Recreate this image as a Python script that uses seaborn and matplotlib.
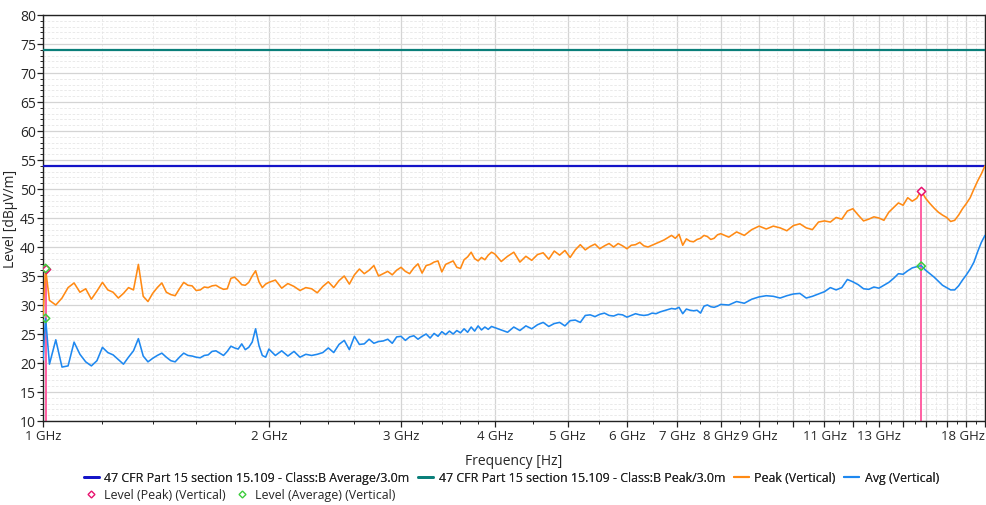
"""
Radiated emission scan 1-18 GHz (vertical) against the FCC 15.109 class B limits.
"""

import matplotlib
matplotlib.use("Agg")
import matplotlib.pyplot as plt
import pandas as pd
import seaborn as sns
from matplotlib.lines import Line2D
from matplotlib.ticker import FixedLocator, FuncFormatter, MultipleLocator


# sweep frequencies [GHz]
FREQ_GHZ = [
    1.00, 1.008, 1.02, 1.04, 1.06, 1.08, 1.10, 1.12, 1.14, 1.16, 1.18,
    1.20, 1.22, 1.24, 1.26, 1.28, 1.30, 1.32, 1.34, 1.36, 1.38,
    1.40, 1.42, 1.44, 1.46, 1.48, 1.50, 1.52, 1.54, 1.56, 1.58,
    1.60, 1.62, 1.64, 1.66, 1.68, 1.70, 1.72, 1.74, 1.76, 1.78,
    1.80, 1.82, 1.84, 1.86, 1.88, 1.90, 1.92, 1.94, 1.96, 1.98,
    2.00, 2.04, 2.08, 2.12, 2.16, 2.20, 2.24, 2.28, 2.32, 2.36,
    2.40, 2.44, 2.48, 2.52, 2.56, 2.60, 2.64, 2.68, 2.72, 2.76,
    2.80, 2.84, 2.88, 2.92, 2.96, 3.00, 3.04, 3.08, 3.12, 3.16,
    3.20, 3.24, 3.28, 3.32, 3.36, 3.40, 3.44, 3.48, 3.52, 3.56,
    3.60, 3.64, 3.68, 3.72, 3.76, 3.80, 3.84, 3.88, 3.92, 3.96,
    4.00, 4.08, 4.16, 4.24, 4.32, 4.40, 4.48, 4.56, 4.64, 4.72,
    4.80, 4.88, 4.96, 5.04, 5.12, 5.20, 5.28, 5.36, 5.44, 5.52,
    5.60, 5.68, 5.76, 5.84, 5.92, 6.00, 6.08, 6.16, 6.24, 6.32,
    6.40, 6.48, 6.56, 6.64, 6.72, 6.80, 6.88, 6.96, 7.04, 7.12,
    7.20, 7.28, 7.36, 7.44, 7.52, 7.60, 7.68, 7.76, 7.84, 7.92,
    8.0, 8.2, 8.4, 8.6, 8.8, 9.0, 9.2, 9.4, 9.6, 9.8,
    10.0, 10.2, 10.4, 10.6, 10.8, 11.0, 11.2, 11.4, 11.6, 11.8,
    12.0, 12.2, 12.4, 12.6, 12.8, 13.0, 13.2, 13.4, 13.6, 13.8,
    14.0, 14.2, 14.4, 14.6, 14.8, 15.0, 15.2, 15.4, 15.6, 15.8,
    16.0, 16.2, 16.4, 16.6, 16.8, 17.0, 17.2, 17.4, 17.6, 17.8,
    18.0,
]

# Peak (Vertical) [dBuV/m]
PEAK = [
    28.0, 36.2, 30.8, 30.0, 31.2, 33.0, 33.8, 32.2, 32.8, 31.0, 32.4,
    33.9, 32.6, 32.2, 31.2, 32.0, 33.0, 32.6, 37.0, 31.5, 30.6,
    32.0, 33.0, 33.8, 32.2, 31.8, 31.6, 32.8, 33.9, 33.4, 33.3,
    32.5, 32.6, 33.1, 33.0, 33.3, 33.4, 33.0, 32.7, 32.8, 34.6,
    34.8, 34.2, 33.5, 33.4, 33.9, 35.0, 35.9, 34.0, 33.0, 33.6,
    33.9, 34.3, 32.9, 33.7, 33.2, 32.5, 33.0, 32.8, 32.1, 33.2,
    34.0, 33.0, 34.2, 35.0, 33.6, 35.2, 36.2, 35.4, 36.0, 36.8,
    35.0, 35.4, 35.8, 35.2, 36.0, 36.5, 35.8, 35.4, 36.4, 37.1,
    35.5, 36.8, 37.0, 37.4, 37.6, 35.7, 37.0, 37.3, 37.6, 36.5,
    36.3, 37.8, 38.3, 39.1, 38.0, 37.6, 38.2, 37.8, 38.6, 39.1,
    38.8, 37.5, 38.4, 39.1, 37.4, 38.4, 37.7, 38.7, 39.0, 37.9,
    39.3, 38.6, 39.4, 38.2, 39.5, 40.4, 39.5, 40.1, 40.5, 39.7,
    40.2, 40.6, 40.0, 40.6, 40.2, 39.7, 40.3, 40.4, 40.8, 40.2,
    40.0, 40.3, 40.6, 40.9, 41.2, 41.6, 42.0, 41.5, 42.2, 40.3,
    41.4, 41.0, 40.9, 41.3, 41.5, 42.0, 41.8, 41.3, 41.5, 42.1,
    42.3, 41.7, 42.6, 42.0, 43.0, 43.6, 43.1, 43.6, 43.3, 42.8,
    43.7, 44.0, 43.3, 43.0, 44.3, 44.5, 44.3, 45.1, 44.8, 46.2,
    46.6, 45.5, 44.5, 44.8, 45.2, 45.0, 44.6, 46.0, 46.8, 47.6,
    47.2, 48.5, 47.9, 48.4, 49.7, 48.4, 47.5, 46.7, 46.0, 45.5,
    45.1, 44.4, 44.6, 45.5, 46.6, 47.5, 48.5, 50.0, 51.4, 52.6,
    54.0,
]

# Avg (Vertical) [dBuV/m]
AVG = [
    20.5, 27.7, 19.8, 24.0, 19.3, 19.5, 23.6, 21.5, 20.2, 19.5, 20.4,
    22.7, 21.8, 21.4, 20.6, 19.8, 21.0, 22.1, 24.2, 21.2, 20.2,
    20.8, 21.3, 21.7, 21.0, 20.4, 20.2, 21.0, 21.7, 21.3, 21.2,
    21.0, 20.9, 21.3, 21.4, 22.0, 22.1, 21.7, 21.3, 22.0, 22.9,
    22.6, 22.4, 23.3, 22.3, 22.7, 23.6, 25.9, 23.0, 21.3, 21.0,
    22.4, 21.3, 22.1, 21.2, 22.0, 21.0, 21.5, 21.3, 21.5, 21.8,
    22.6, 21.8, 23.2, 23.9, 22.3, 24.6, 23.2, 23.3, 24.1, 23.4,
    23.7, 23.8, 24.1, 23.4, 24.5, 24.6, 23.9, 24.5, 24.7, 24.1,
    24.6, 25.0, 24.3, 25.1, 24.6, 25.4, 24.9, 25.5, 25.0, 25.6,
    25.2, 25.9, 25.3, 26.2, 25.5, 26.4, 25.7, 26.2, 25.8, 26.3,
    26.1, 25.7, 25.3, 26.2, 25.6, 26.4, 25.9, 26.6, 27.0, 26.3,
    26.8, 27.0, 26.4, 27.3, 27.4, 27.0, 28.2, 28.3, 28.0, 28.4,
    28.6, 28.2, 28.1, 28.4, 28.3, 27.9, 28.2, 28.5, 28.3, 28.2,
    28.3, 28.6, 28.5, 28.8, 29.0, 29.2, 29.4, 29.3, 29.6, 28.5,
    29.3, 29.1, 29.0, 29.1, 28.6, 29.8, 30.0, 29.7, 29.6, 29.8,
    30.1, 30.0, 30.6, 30.3, 31.0, 31.4, 31.6, 31.5, 31.2, 31.6,
    31.9, 32.0, 31.2, 31.5, 31.9, 32.3, 33.0, 32.6, 33.0, 34.4,
    34.0, 33.5, 32.8, 32.7, 33.1, 32.9, 33.4, 33.9, 34.6, 35.4,
    35.3, 35.9, 36.4, 36.6, 36.8, 36.0, 35.4, 34.8, 34.1, 33.4,
    33.0, 32.6, 32.6, 33.3, 34.3, 35.2, 36.2, 37.4, 39.2, 40.8,
    42.0,
]

# limit lines
LIMIT_AVG = 54.0
LIMIT_PEAK = 74.0

# final measurement markers
PEAK_MARK_F = [1.008, 14.8]
PEAK_MARK_LVL = [36.2, 49.7]
AVG_MARK_F = [1.008, 1.008, 14.8]
AVG_MARK_LVL = [36.3, 27.7, 36.7]

LIMIT_AVG_LABEL = "47 CFR Part 15 section 15.109 - Class:B Average/3.0m"
LIMIT_PEAK_LABEL = "47 CFR Part 15 section 15.109 - Class:B Peak/3.0m"

XTICKS_MAJOR = [1, 2, 3, 4, 5, 6, 7, 8, 9, 10, 11, 12, 13, 14, 15, 16, 17, 18]
XTICKS_LABELED = [1, 2, 3, 4, 5, 6, 7, 8, 9, 11, 13, 18]

C_LIM_AVG = "#1414c8"
C_LIM_PEAK = "#0a7f7a"
C_PEAK = "#ff8a14"
C_AVG = "#1e88f0"
C_PINK = "#ff5fa2"
C_PINK_MARK = "#e8116e"
C_GREEN = "#3ccc3c"


def main() -> None:
    sns.set_theme(style="white")
    plt.rcParams["font.family"] = ["Open Sans", "DejaVu Sans"]

    df = pd.concat(
        [
            pd.DataFrame({"freq": FREQ_GHZ, "level": PEAK, "trace": "Peak (Vertical)"}),
            pd.DataFrame({"freq": FREQ_GHZ, "level": AVG, "trace": "Avg (Vertical)"}),
        ],
        ignore_index=True,
    )

    fig = plt.figure(figsize=(9.86, 5.06), dpi=100)
    ax = fig.add_axes([43 / 986, 1 - 422 / 506, 942 / 986, 406 / 506])

    ax.axhline(LIMIT_AVG, color=C_LIM_AVG, lw=1.6, zorder=3)
    ax.axhline(LIMIT_PEAK, color=C_LIM_PEAK, lw=1.6, zorder=3)

    # marker drop lines
    ax.vlines(PEAK_MARK_F, 10, PEAK_MARK_LVL, color=C_PINK, lw=1.4, zorder=2)

    sns.lineplot(
        data=df,
        x="freq",
        y="level",
        hue="trace",
        palette={"Peak (Vertical)": C_PEAK, "Avg (Vertical)": C_AVG},
        sort=False,
        estimator=None,
        lw=1.15,
        legend=False,
        ax=ax,
        zorder=4,
    )

    ax.scatter(PEAK_MARK_F, PEAK_MARK_LVL, marker="D", s=18, facecolor="white",
               edgecolor=C_PINK_MARK, linewidth=1.1, zorder=6)
    ax.scatter(AVG_MARK_F, AVG_MARK_LVL, marker="D", s=18, facecolor="none",
               edgecolor=C_GREEN, linewidth=1.1, zorder=6)

    ax.set_xscale("log")
    ax.set_xlim(1.0, 18.0)
    ax.set_ylim(10, 80)

    ax.xaxis.set_major_locator(FixedLocator(XTICKS_MAJOR))
    minors = [v / 10 for v in range(12, 40, 2) if v % 10] + \
             [v / 10 for v in range(45, 180, 5) if v % 10]
    ax.xaxis.set_minor_locator(FixedLocator(minors))
    ax.xaxis.set_major_formatter(
        FuncFormatter(lambda v, _: f"{v:g} GHz" if round(v) in XTICKS_LABELED else "")
    )
    ax.xaxis.set_minor_formatter(FuncFormatter(lambda v, _: ""))
    ax.yaxis.set_major_locator(MultipleLocator(5))
    ax.yaxis.set_minor_locator(MultipleLocator(1))

    ax.grid(which="major", color="#d4d4d4", lw=0.9, ls="-")
    ax.grid(which="minor", color="#e6e6e6", lw=0.6, ls=(0, (3, 2)))
    ax.set_axisbelow(True)

    for side in ["left", "bottom", "top", "right"]:
        ax.spines[side].set_color("#222222")
        ax.spines[side].set_linewidth(1.0)

    ax.tick_params(axis="both", which="major", direction="out", length=4,
                   width=0.9, color="#222222", pad=2, left=True, bottom=True)
    ax.tick_params(axis="x", which="major", labelsize=9.5)
    ax.tick_params(axis="y", which="major", labelsize=10, pad=1)
    ax.tick_params(axis="both", which="minor", direction="out", length=2,
                   width=0.7, color="#222222", left=True, bottom=True)
    for lbl in ax.get_xticklabels():
        if lbl.get_text() == "18 GHz":
            lbl.set_horizontalalignment("right")

    ax.set_xlabel("Frequency [Hz]", fontsize=10, labelpad=8)
    ax.set_ylabel("Level [dBµV/m]", fontsize=10)
    ax.yaxis.set_label_coords(-0.027, 0.5)

    row1 = [
        Line2D([], [], color=C_LIM_AVG, lw=2),
        Line2D([], [], color=C_LIM_PEAK, lw=2),
        Line2D([], [], color=C_PEAK, lw=1.5),
        Line2D([], [], color=C_AVG, lw=1.5),
    ]
    leg1 = fig.legend(
        row1,
        [LIMIT_AVG_LABEL, LIMIT_PEAK_LABEL, "Peak (Vertical)", "Avg (Vertical)"],
        loc="center left", bbox_to_anchor=(84 / 986, 1 - 479 / 506),
        ncol=4, frameon=False, fontsize=8.9, handlelength=1.2,
        handletextpad=0.45, columnspacing=0.7, borderpad=0, borderaxespad=0,
    )
    row2 = [
        Line2D([], [], ls="", marker="D", ms=3.5, mfc="white",
               mec=C_PINK_MARK, mew=1.0),
        Line2D([], [], ls="", marker="D", ms=3.5, mfc="white",
               mec=C_GREEN, mew=1.0),
    ]
    fig.legend(
        row2,
        ["Level (Peak) (Vertical)", "Level (Average) (Vertical)"],
        loc="center left", bbox_to_anchor=(84 / 986, 1 - 496 / 506),
        ncol=2, frameon=False, fontsize=8.9, handlelength=1.2,
        handletextpad=0.45, columnspacing=0.7, borderpad=0, borderaxespad=0,
    )
    fig.add_artist(leg1)

    fig.savefig("out.png", dpi=100)
    plt.close(fig)


if __name__ == "__main__":
    main()
